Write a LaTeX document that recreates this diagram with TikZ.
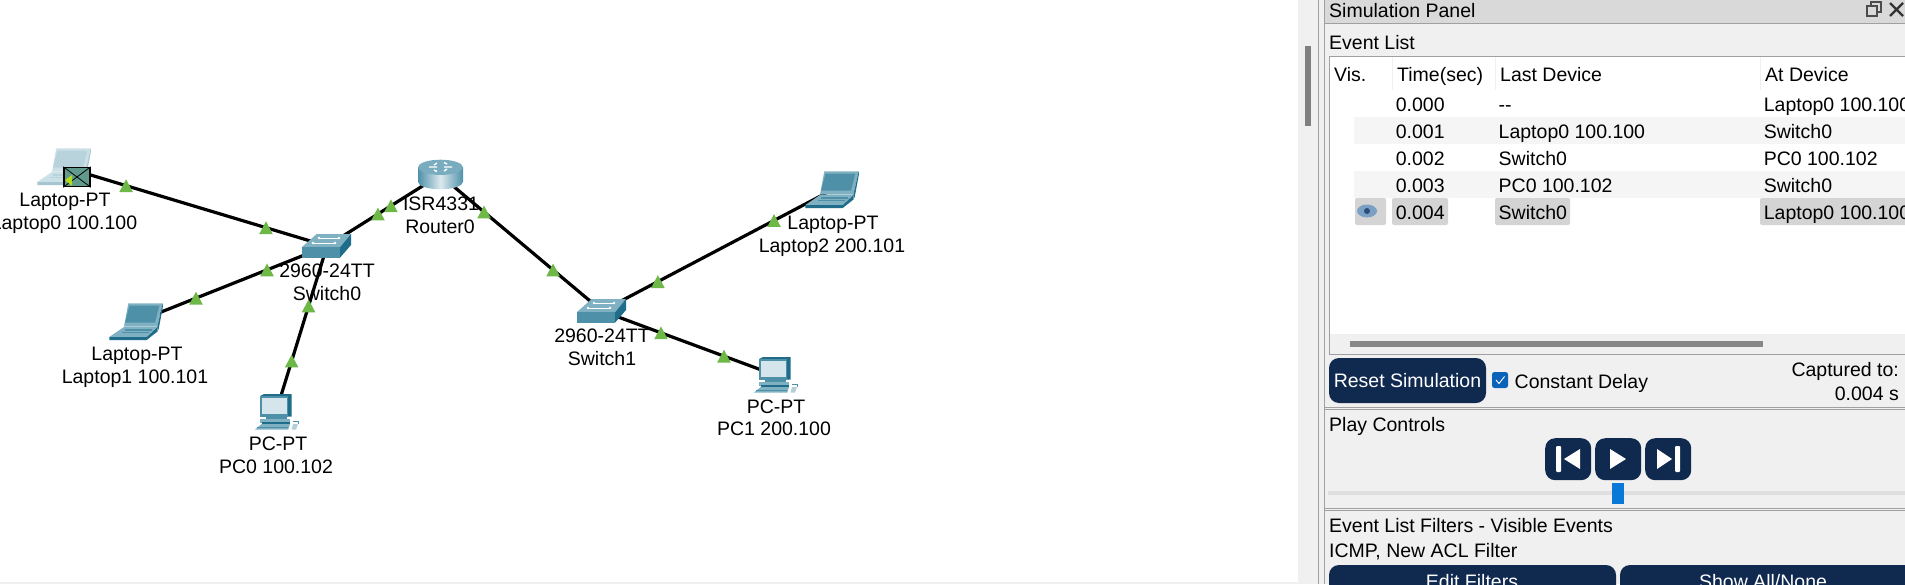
\documentclass[tikz,border=0pt]{standalone}
\usepackage{fontspec}
\setmainfont{Liberation Sans}
\usetikzlibrary{calc}
\definecolor{linkgreen}{HTML}{6DB847}
\definecolor{tealdark}{HTML}{1F6D8A}
\definecolor{tealmid}{HTML}{4F90A9}
\definecolor{teallight}{HTML}{80B1C2}
\definecolor{screenpale}{HTML}{D5E5EC}
\definecolor{panelgrey}{HTML}{F0F0F0}
\definecolor{titlegrey}{HTML}{D9D9D9}
\definecolor{edgegrey}{HTML}{A0A0A0}
\definecolor{rowgrey}{HTML}{F5F5F5}
\definecolor{pickgrey}{HTML}{D4D4D4}
\definecolor{navybtn}{HTML}{10294F}
\definecolor{tickblue}{HTML}{0B62B8}
\definecolor{thumbblue}{HTML}{0A78D7}
\definecolor{mailfill}{HTML}{5F9A8C}
\definecolor{eyeblue}{HTML}{7C9FC4}
\definecolor{eyedark}{HTML}{2B4D7A}
\tikzset{
  dev/.style={inner sep=0,minimum size=12pt},
  link/.style={line width=3.2pt,black},
  lbl/.style={font=\fontsize{19.5}{22}\selectfont,inner sep=0,text height=14pt,text depth=0pt},
  ltxt/.style={lbl,anchor=west},
  rtxt/.style={lbl,anchor=east},
  btn/.style={fill=navybtn,rounded corners=10pt},
  pick/.style={fill=pickgrey,rounded corners=2pt},
  pics/up/.style={code={\fill[linkgreen] (-6.8,6.4) -- (0,-6.4) -- (6.8,6.4) -- cycle;}},
  pics/laptopicon/.style={code={
    \fill[teallight!#1!white] (-7.7,-18.7) -- (26.7,-18.7) -- (21.3,4.7) -- (-12,4.7) -- cycle;
    \fill[tealmid!#1!white] (-6.5,-16.5) -- (23.3,-16.5) -- (19,.7) -- (-11,.7) -- cycle;
    \fill[tealdark!#1!white] (21.3,5) -- (26.7,-18.7) -- (27,-16) -- (22.5,8) -- cycle;
    \fill[teallight!#1!white] (-12,5) -- (21.3,5) -- (10.7,15) -- (-26.7,15) -- cycle;
    \fill[tealdark!#1!white] (-26.7,15) -- (10.7,15) -- (21.5,5) -- (21.5,9.5) -- (10.7,18) -- (-26.7,18) -- cycle;
    \draw[tealmid!#1!white,line width=1.2pt] (-11,8) -- (16,8) (-14,10.5) -- (13,10.5);
  }},
  pics/pcicon/.style={code={
    \fill[tealdark] (-16,-16) -- (-12,-18) -- (15.7,-18) -- (15.7,4.7) -- (-16,4.7) -- cycle;
    \fill[tealmid] (-16,-16) -- (12,-16) -- (12,4.7) -- (-16,4.7) -- cycle;
    \fill[screenpale] (-14,-14.3) rectangle (11,2);
    \fill[tealmid] (-10,4.7) rectangle (11,7);
    \fill[teallight] (-16,7) rectangle (14,11.3);
    \fill[tealdark] (-14,9.5) rectangle (14,11.5);
    \fill[teallight] (-21,17.5) -- (-14.3,12) -- (14,12) -- (12.3,17.5) -- cycle;
    \draw[tealmid,line width=.8pt] (-19,15) -- (12,15);
    \fill[teallight!60!white] (15.5,17.5) -- (17,12) -- (22,12) -- (20,17.5) -- cycle;
    \draw[tealmid,line width=.7pt] (17,9) -- (22,9) -- (22,12);
  }},
  pics/switchicon/.style={code={
    \fill[teallight] (-25.3,1.3) -- (-10.3,-12) -- (24,-12) -- (13,1.3) -- cycle;
    \fill[tealmid] (-25.3,1.3) rectangle (13,11.7);
    \fill[tealdark] (13,1.3) -- (24,-12) -- (24,-1) -- (13,11.7) -- cycle;
    \draw[white,line width=1pt] (-8,-8) -- (12,-8) (-14,-3) -- (8,-3);
    \fill[white] (-8,-8) circle (1.3) (12,-8) circle (1.3) (-14,-3) circle (1.3) (8,-3) circle (1.3);
  }},
  pics/routericon/.style={code={
    \path[left color=tealmid,right color=tealmid,middle color=white!80!tealmid]
      (-22,-8) -- (-22,6.8) arc[start angle=180,end angle=0,x radius=22.5,y radius=7.5] -- (23,-8) -- cycle;
    \fill[teallight!85!tealmid] (.5,-7.7) ellipse [x radius=22.5,y radius=7.6];
    \draw[white,line width=1.4pt] (-11,-8) -- (-3,-8) (4,-8) -- (12,-8) (-3,-12) -- (-6,-10) (4,-4) -- (7,-6) (7,-11) -- (4,-12.5) (-6,-5) -- (-3,-3.5);
  }}
}
\begin{document}
\begin{tikzpicture}[x=1pt,y=-1pt]
\useasboundingbox (0,0) rectangle (1905,584);
\clip (0,0) rectangle (1905,584);
\fill[white] (0,0) rectangle (1905,584);
% canvas devices
\foreach \n/\x/\y in {Laptop0/64/167,Laptop1/136/322,Laptop2/832/190,PC0/276/412,PC1/775/375,Sw0/327/246,Sw1/602/311,Router0/440/175}
  \node[dev] (\n) at (\x,\y) {};
\foreach \a/\b/\p/\q in {Laptop0/Sw0/.236/.768,Laptop1/Sw0/.314/.686,PC0/Sw0/.307/.639,Sw0/Router0/.451/.566,Router0/Sw1/.272/.698,Sw1/Laptop2/.243/.748,Sw1/PC1/.341/.705} {%
  \draw[link] (\a) -- (\b);
  \pic at ($(\a)!\p!(\b)$) {up};
  \pic at ($(\a)!\q!(\b)$) {up};
}
\pic at (Laptop0) {laptopicon=40};
\pic at (Laptop1) {laptopicon=100};
\pic at (Laptop2) {laptopicon=100};
\pic at (PC0) {pcicon};
\pic at (PC1) {pcicon};
\pic at (Sw0) {switchicon};
\pic at (Sw1) {switchicon};
\pic at (Router0) {routericon};
% packet on Laptop0
\node[draw=black,line width=1.5pt,fill=mailfill,minimum width=26pt,minimum height=19pt,inner sep=0] (Mail) at (77,177) {};
\draw[black,line width=.8pt] (Mail.north west) -- (Mail.center) -- (Mail.north east) (Mail.south west) -- (Mail.center) -- (Mail.south east);
\fill[yellow!70!green] (65,180) -- (72,175) -- (72,186) -- cycle;
% canvas labels
\foreach \n/\x/\y/\t in {a0/65/199/Laptop-PT,a1/64/222/Laptop0 100.100,b0/137/353/Laptop-PT,b1/135/376/Laptop1 100.101,c0/278/443/PC-PT,c1/276/466/PC0 100.102,d0/327/270/2960-24TT,d1/327/293/Switch0,e0/441/203/ISR4331,e1/440/226/Router0,f0/602/335/2960-24TT,f1/602/358/Switch1,g0/833/222/Laptop-PT,g1/832/245/Laptop2 200.101,h0/776/406/PC-PT,h1/774/428/PC1 200.100}
  \node[lbl] (\n) at (\x,\y) {\t};
% panel background
\fill[panelgrey] (1298,0) rectangle (1905,584);
\fill[panelgrey] (0,582) rectangle (1298,584);
\fill[gray] (1305,46) rectangle (1311,126);
\fill[edgegrey] (1318,0) rectangle (1319,584);
\fill[edgegrey] (1324,0) rectangle (1325,584);
\fill[titlegrey] (1325,0) rectangle (1905,23);
\fill[edgegrey] (1325,23) rectangle (1905,24);
\foreach \y in {406.5,408.5,507.5,509.5}
  \fill[edgegrey] (1325,\y) rectangle (1905,\y+.8);
\node[ltxt] (title) at (1329,10) {Simulation Panel};
\draw[black!70,line width=1.6pt] (1867,6) rectangle (1877,16) (1871,6) -- (1871,2) -- (1881,2) -- (1881,12) -- (1877,12);
\draw[black!80,line width=2.4pt] (1890,3) -- (1903,16) (1903,3) -- (1890,16);
% event list
\node[ltxt] (evlist) at (1329,42) {Event List};
\draw[edgegrey,line width=1pt,fill=white] (1329,56) rectangle (1910,354);
\fill[panelgrey] (1329.5,334) rectangle (1905,353.5);
\fill[black!47] (1350,341) rectangle (1763,347);
\foreach \x in {1392,1494.5,1760}
  \fill[panelgrey] (\x,57) rectangle (\x+1,90);
\foreach \x/\t in {1334/Vis.,1397/Time(sec),1500/Last Device,1765/At Device}
  \node[ltxt] (h\t) at (\x,74) {\t};
\fill[rowgrey] (1354,117) rectangle (1905,144);
\fill[rowgrey] (1354,171) rectangle (1905,198);
\fill[pick] (1355,198) rectangle (1386,225);
\fill[pick] (1392,198) rectangle (1448,225);
\fill[pick] (1495,198) rectangle (1570,225);
\fill[pick] (1760,198) rectangle (1915,225);
\fill[eyeblue] (1367,211) ellipse [x radius=10,y radius=6.5];
\fill[eyedark] (1367,211) circle (3);
\foreach \i/\y/\t/\l/\a in {0/104/0.000/-{}-/Laptop0 100.100,1/131/0.001/Laptop0 100.100/Switch0,2/158/0.002/Switch0/PC0 100.102,3/185/0.003/PC0 100.102/Switch0,4/212/0.004/Switch0/Laptop0 100.100} {%
  \node[ltxt] (t\i) at (1395.6,\y) {\t};
  \node[ltxt] (l\i) at (1498.5,\y) {\l};
  \node[ltxt] (d\i) at (1763.6,\y) {\a};
}
% reset row
\node[btn,minimum width=157pt,minimum height=45pt,inner sep=0] (reset) at (1407.5,380.5) {};
\node[lbl,white] (resettxt) at (reset.center) {Reset Simulation};
\fill[tickblue,rounded corners=2.5pt] (1492,372) rectangle (1508,388);
\draw[white,line width=.9pt] (1496,380) -- (1499,383.5) -- (1504.5,376.5);
\node[ltxt] (delay) at (1514.5,381) {Constant Delay};
\node[rtxt] (capt) at (1899,369) {Captured to:};
\node[rtxt] (captval) at (1899,393) {0.004 s};
% play controls
\node[ltxt] (play) at (1329,424) {Play Controls};
\foreach \n/\x in {back/1545,go/1595,next/1645}
  \node[btn,anchor=north west,minimum width=46pt,minimum height=42pt,inner sep=0] (\n) at (\x,438) {};
\fill[white,rounded corners=1pt] (1556,446) rectangle (1561,472);
\fill[white] (1564,459) -- (1580,449) -- (1580,469) -- cycle;
\fill[white] (1610,449) -- (1626,459) -- (1610,469) -- cycle;
\fill[white] (1657,449) -- (1672,459) -- (1657,469) -- cycle;
\fill[white,rounded corners=1pt] (1675,446) rectangle (1680,472);
\fill[gray!25] (1328,491) rectangle (1905,495);
\fill[thumbblue] (1612,483) rectangle (1624,504);
% filters
\node[ltxt] (filt) at (1329,525) {Event List Filters - Visible Events};
\node[ltxt] (icmp) at (1329,550) {ICMP, New ACL Filter};
\fill[btn] (1329,565) rectangle (1616,600);
\fill[btn] (1620,565) rectangle (1915,600);
\node[lbl,white] (edit) at (1472,581) {Edit Filters};
\node[lbl,white] (show) at (1763,581) {Show All/None};
\end{tikzpicture}
\end{document}
